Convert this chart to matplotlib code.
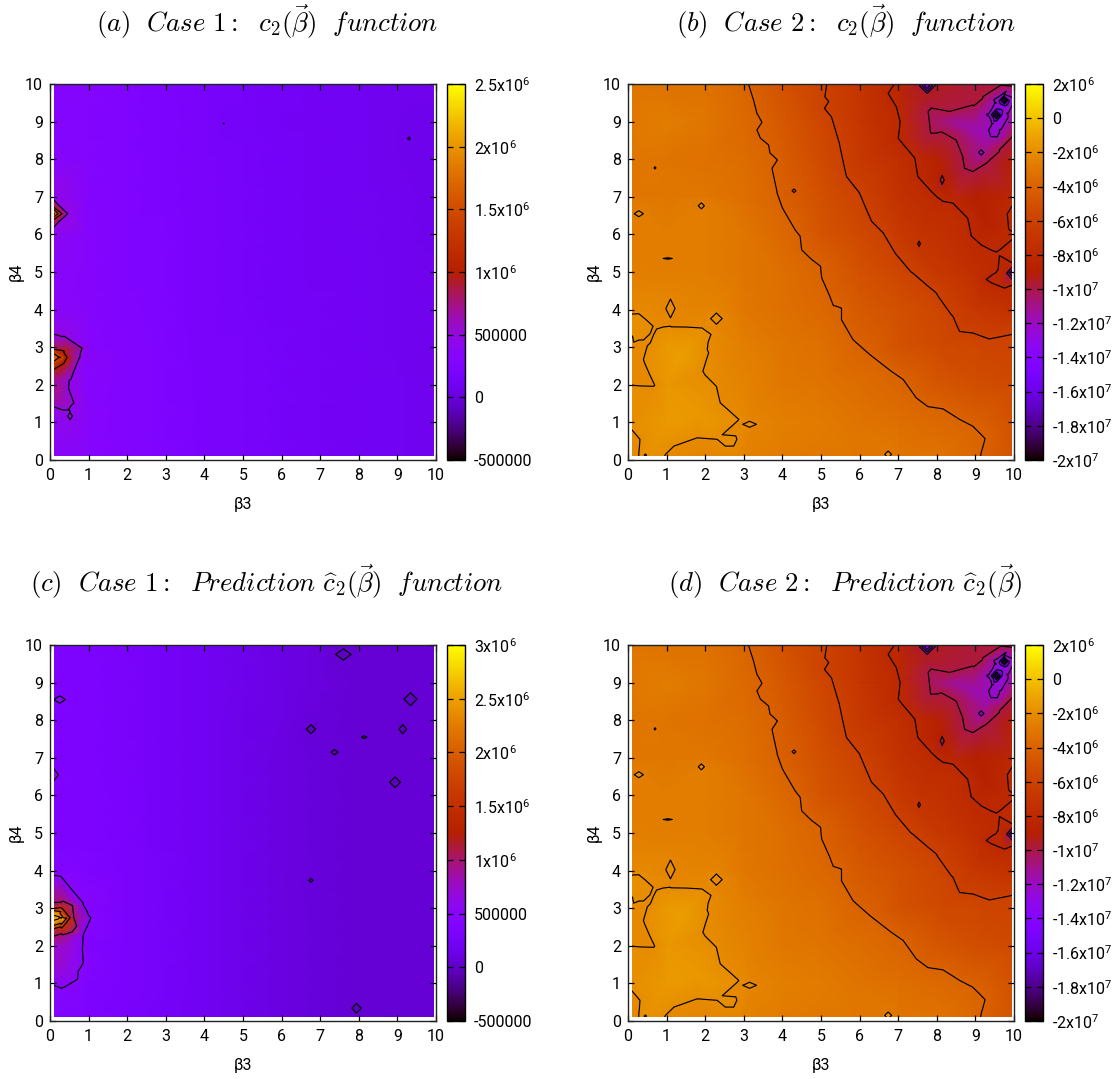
import numpy as np
import matplotlib
matplotlib.use("Agg")
import matplotlib.pyplot as plt
from matplotlib.colors import ListedColormap, Normalize
from matplotlib.patches import Rectangle
from matplotlib.cm import ScalarMappable
from matplotlib.tri import Triangulation

plt.rcParams['font.family'] = ['Roboto', 'DejaVu Sans']
plt.rcParams['mathtext.fontset'] = 'custom'
plt.rcParams['mathtext.rm'] = 'Roboto'
plt.rcParams['mathtext.it'] = 'Roboto:italic'
plt.rcParams['mathtext.bf'] = 'Roboto:bold'

# ---------- data, all values in units of 1e6 ----------
GRID_AXIS = [0, 1, 2, 3, 4, 5, 6, 7, 8, 9, 10]
N = float('nan')  # separates contour chains in the lists below

# rows run from beta4 = 10 down to beta4 = 0
CASE2_GRID = [
    [-3.1, -3.2, -3.2, -3.9, -4.9, -5.85, -7.0, -8.2, -9.5, -9.8, -9.8],
    [-2.9, -2.7, -3.0, -3.6, -4.6, -5.7, -6.9, -7.9, -10.6, -11.2, -11.0],
    [-3.0, -3.1, -3.2, -3.5, -4.3, -5.4, -6.6, -7.5, -8.7, -10.7, -9.0],
    [-3.0, -3.0, -3.0, -3.4, -4.2, -5.1, -5.95, -7.2, -8.0, -9.0, -8.3],
    [-2.7, -2.7, -2.7, -3.0, -3.7, -4.8, -5.5, -6.6, -7.3, -8.3, -8.0],
    [-2.6, -2.7, -2.7, -3.0, -3.4, -4.0, -5.0, -5.7, -6.7, -7.6, -9.0],
    [-2.3, -1.95, -2.4, -2.9, -3.3, -3.7, -4.5, -5.1, -5.7, -6.8, -7.3],
    [-2.1, -1.5, -1.95, -2.6, -3.0, -3.3, -3.95, -4.9, -5.4, -5.6, -5.9],
    [-2.0, -1.6, -1.8, -2.4, -2.9, -3.1, -3.5, -3.9, -4.7, -5.2, -5.5],
    [-1.95, -1.5, -1.6, -2.05, -2.6, -2.8, -3.1, -3.4, -3.6, -4.1, -5.0],
    [-2.2, -2.05, -2.3, -2.5, -2.8, -2.9, -3.0, -3.0, -3.1, -3.9, -4.9],
]
CASE2_LEVELS = [-18, -16, -14, -12, -10, -8, -6, -4, -2]

CASE2_M2_X = [0, .67, .43, .58, 1.1, 1.92, 2.15, 2.09, 1.94, 2.29, 2.39, 2.87, 2.82, 2.74, 2.52, 2.31, 1.79, 1.19, .97, .9, N,
              0, .31, .28, .28, N, 0, .28, .65, .28, 0]
CASE2_M2_Y = [2.0, 1.96, 2.58, 3.12, 3.56, 3.51, 3.34, 2.85, 2.36, 1.96, 1.52, 1.08, .55, .37, .37, .55, .59, .37, .15, 0, N,
              .92, .55, .19, 0, N, 3.87, 3.89, 3.56, 3.19, 3.38]
CASE2_M2_SIGN = [-1, 1, -1]
CASE2_M4_X = [3.12, 3.25, 3.34, 3.47, 3.34, 3.43, 3.64, 3.68, 3.87, 3.73, 3.86, 4.03, 4.33, 4.46, 4.5, 4.76, 4.99, 5.02,
              5.23, 5.32, 5.53, 5.53, 5.83, 6.27, 6.82, 7.13, 7.47, 7.77, 8.16, 8.59, 8.93, 9.25, 9.15, 9.12]
CASE2_M4_Y = [10, 9.58, 9.22, 8.98, 8.78, 8.56, 8.38, 8.16, 7.98, 7.76, 7.14, 6.65, 6.12, 5.95, 5.59, 5.33, 5.15, 4.84,
              4.35, 4.11, 4.04, 3.73, 3.2, 2.8, 2.36, 2.14, 1.65, 1.42, 1.36, 1.08, .9, .57, .2, 0]
CASE2_M4_SIGN = [-1]
CASE2_M6_X = [5.15, 5.1, 5.2, 5.09, 5.27, 5.45, 5.66, 6.0, 6.31, 6.61, 6.87, 7.38, 7.73, 7.99, 8.42, 8.59, 8.93, 9.36, 10]
CASE2_M6_Y = [10, 9.66, 9.53, 9.35, 9.13, 8.51, 7.54, 7.1, 6.35, 6.04, 5.59, 4.97, 4.66, 4.44, 3.82, 3.42, 3.38, 3.22, 3.35]
CASE2_M6_SIGN = [-1]
CASE2_M8_X = [6.91, 6.74, 6.95, 7.04, 7.0, 7.25, 7.43, 7.51, 7.86, 8.16, 8.42, 8.8, 8.89, 9.23, 9.54, 10, N,
              10, 9.84, 9.88, 10, N, 10, 9.54, 9.28, 9.54, 9.71, 10]
CASE2_M8_Y = [10, 9.75, 9.4, 9.04, 8.56, 8.25, 8.03, 7.54, 7.14, 6.88, 6.83, 6.43, 5.99, 5.68, 5.53, 5.99, N,
              6.83, 6.57, 6.12, 5.99, N, 5.19, 4.99, 4.8, 4.66, 4.59, 4.71]
CASE2_M8_SIGN = [-1, 1, -1]
CASE2_M10_X = [7.81, 8.33, 8.93, 9.19, 9.66, 10, 10, 9.62, 9.28, 8.93, 8.72, 8.67, 8.5, 8.12, 7.86, 7.81]
CASE2_M10_Y = [9.31, 9.27, 9.44, 9.66, 9.97, 9.93, 8.65, 8.25, 7.89, 7.67, 7.76, 8.07, 8.51, 8.73, 8.69, 9.31]
CASE2_M10_SIGN = [1]
CASE2_M12_X = [9.34, 9.54, 9.75, 9.97, 9.81, 9.62, 9.58, 9.34, 9.47, 9.34]
CASE2_M12_Y = [9.18, 9.49, 9.73, 9.53, 9.22, 8.78, 8.63, 8.78, 8.95, 9.18]
CASE2_M12_SIGN = [1]
CASE2_EXTRA_X = [.6, 1.4, 1.2, 1.9, .2, 0, 8.4, 8.9, 9.3, 9.1, 9.0, 10, 10, 9.6, 9.3, 8.3, 9.85, 9.52, 9.5, .15, .2,
                 .9, 1.15, .9, 1.15]
CASE2_EXTRA_Y = [.25, 2.8, 1.0, 1.2, 3.55, 3.6, 9.0, 8.8, 8.5, 8.0, 9.55, 5.6, 6.4, 4.85, 6.3, 6.3, 9.4, 8.85, 8.7, 2.5, 2.9,
                 5.45, 5.45, 5.27, 5.27]
CASE2_EXTRA_V = [-1.75, -1.25, -1.4, -1.55, -1.8, -1.8, -11.2, -11.6, -11.5, -11.0, -9.6, -7.7, -7.6, -8.2, -8.7, -7.5, -12.4, -12.6, -12.5, -2.2, -2.2,
                 -2.7, -2.7, -2.7, -2.7]
# small closed contours: x, y, half width, half height, ring levels, centre value, surroundings
CASE2_SPOTS = [
    (1.1, 4.03, .12, .25, [-2], -1.9, -2.3),
    (2.29, 3.76, .15, .15, [-2], -1.9, -2.3),
    (3.15, .95, .18, .08, [-2], -1.9, -2.3),
    (6.74, .15, .09, .09, [-2], -1.9, -2.9),
    (1.9, 6.76, .08, .08, [-2], -1.9, -2.7),
    (.28, 6.55, .12, .08, [-2], -1.9, -2.7),
    (.7, 7.77, .025, .03, [-2], -1.9, -2.9),
    (1.03, 5.36, .12, .02, [-2], -1.9, -2.7),
    (.45, .13, .03, .03, [-2], -2.1, -1.8),
    (4.3, 7.16, .05, .05, [-4], -3.9, -4.4),
    (7.54, 5.75, .035, .07, [-8], -8.1, -7.0),
    (8.14, 7.45, .05, .12, [-10], -10.3, -8.9),
    (9.15, 8.18, .07, .07, [-12], -12.3, -11.0),
    (7.75, 9.95, .2, .2, [-10, -12, -14], -15.0, -9.5),
    (9.55, 9.18, .14, .16, [-14, -16, -18], -19.0, -12.6),
    (9.75, 9.56, .13, .14, [-14, -16, -18], -19.0, -12.6),
    (9.95, 4.97, .14, .16, [-10, -12], -13.0, -8.4),
]

CASE1A_GRID = [
    [.33, .30, .26, .22, .19, .16, .14, .12, .10, .09, .08],
    [.33, .29, .25, .22, .18, .16, .13, .12, .10, .08, .07],
    [.34, .29, .26, .22, .18, .16, .14, .12, .10, .08, .07],
    [.42, .30, .26, .22, .18, .16, .14, .12, .10, .09, .07],
    [.40, .31, .26, .23, .19, .16, .14, .12, .10, .09, .07],
    [.36, .31, .26, .23, .19, .16, .14, .12, .11, .09, .08],
    [.38, .31, .27, .23, .19, .16, .14, .13, .11, .09, .08],
    [.80, .32, .28, .24, .19, .17, .15, .13, .11, .09, .08],
    [.70, .33, .28, .24, .20, .17, .15, .13, .11, .10, .08],
    [.40, .33, .28, .24, .20, .17, .15, .13, .12, .10, .08],
    [.36, .32, .28, .24, .20, .17, .15, .13, .12, .10, .09],
]
CASE1A_LEVELS = [0, .5, 1, 1.5, 2]
CASE1A_P5_X = [0, .46, 0, N, 0, .33, .78, .5, .48, .62, .5, .33, 0]
CASE1A_P5_Y = [6.97, 6.55, 6.15, N, 3.37, 3.28, 2.73, 2.13, 1.91, 1.51, 1.33, 1.33, 1.45]
CASE1A_P10_X = [0, .26, 0, N, 0, .36, .44, .36, 0]
CASE1A_P10_Y = [6.74, 6.55, 6.38, N, 2.91, 2.86, 2.73, 2.57, 2.4]
CASE1A_P15_X = [0, .21, 0, N, 0, .27, 0]
CASE1A_P15_Y = [6.7, 6.55, 6.42, N, 2.86, 2.73, 2.6]
CASE1A_P20_X = [0, .16, 0]
CASE1A_P20_Y = [6.66, 6.55, 6.46]
CASE1A_EXTRA_X = [0, 0, .3, .2, .6, .9, .9, .7, .7]
CASE1A_EXTRA_Y = [6.55, 2.73, 1.9, 1.6, 6.55, 6.5, 2.7, 1.2, 3.5]
CASE1A_EXTRA_V = [2.3, 1.85, .7, .68, .4, .32, .36, .4, .4]
CASE1A_SPOTS = [
    (.52, 1.17, .06, .1, [.5], .55, .42),
    (9.3, 8.55, .035, .035, [0], -.02, .07),
    (4.5, 8.95, .012, .012, [0], -.01, .15),
]

CASE1C_GRID = [
    [.38, .34, .30, .25, .20, .16, .12, .09, .06, .05, .05],
    [.37, .34, .30, .25, .20, .16, .12, .09, .06, .05, .05],
    [.37, .34, .30, .25, .20, .15, .12, .08, .06, .05, .05],
    [.37, .34, .30, .25, .20, .15, .11, .08, .06, .05, .05],
    [.37, .34, .31, .25, .20, .15, .11, .08, .06, .05, .05],
    [.37, .34, .31, .25, .20, .15, .11, .08, .06, .05, .05],
    [.38, .35, .31, .26, .20, .15, .11, .08, .06, .05, .05],
    [1.4, .40, .32, .26, .20, .15, .11, .08, .06, .05, .05],
    [.70, .38, .32, .26, .20, .15, .11, .08, .06, .05, .05],
    [.50, .37, .32, .26, .20, .15, .11, .08, .06, .05, .05],
    [.38, .34, .31, .25, .20, .15, .11, .08, .06, .05, .05],
]
CASE1C_LEVELS = [0, .5, 1, 1.5, 2, 2.5, 2.75]
CASE1C_P5_X = [0, .28, .6, .86, 1.06, .86, .84, .86, .73, .71, .47, .3, 0]
CASE1C_P5_Y = [3.88, 3.85, 3.45, 3.14, 2.74, 2.29, 1.9, 1.54, 1.32, 1.11, .96, .87, .99]
CASE1C_P10_X = [0, .3, .62, .3, 0]
CASE1C_P10_Y = [3.14, 3.16, 2.74, 2.32, 2.23]
CASE1C_P15_X = [0, .33, .52, .3, 0]
CASE1C_P15_Y = [2.96, 2.98, 2.74, 2.47, 2.43]
CASE1C_P20_X = [0, .26, .39, .26, 0]
CASE1C_P20_Y = [2.9, 2.87, 2.74, 2.6, 2.56]
CASE1C_P25_X = [0, .2, .3, .17, 0]
CASE1C_P25_Y = [2.83, 2.78, 2.74, 2.7, 2.65]
CASE1C_EXTRA_X = [0, .2, .4, .25, .5, 1.2, .8, .6, 1.1, .8]
CASE1C_EXTRA_Y = [2.74, 2.74, 2.0, 1.5, 1.4, 2.7, 3.6, 4.2, 1.5, .8]
CASE1C_EXTRA_V = [3.0, 2.7, .72, .72, .6, .42, .42, .38, .4, .4]
CASE1C_SPOTS = [
    (.25, 8.55, .15, .1, [.5], .52, .37),
    (.07, 6.55, .15, .2, [.5], .55, .37),
    (7.6, 9.75, .2, .15, [0], -.015, .06),
    (9.34, 8.56, .17, .17, [0], -.015, .05),
    (6.76, 7.76, .12, .12, [0], -.015, .08),
    (9.14, 7.76, .1, .12, [0], -.015, .05),
    (8.14, 7.55, .07, .04, [0], -.015, .06),
    (7.37, 7.15, .09, .07, [0], -.015, .07),
    (8.94, 6.35, .14, .14, [0], -.015, .05),
    (6.76, 3.74, .05, .05, [0], -.015, .08),
    (7.94, .34, .12, .13, [0], -.015, .06),
]

TICK_VALUES = [0, 1, 2, 3, 4, 5, 6, 7, 8, 9, 10]
CBAR_A_TICKS = [-.5, 0, .5, 1, 1.5, 2, 2.5]
CBAR_A_LABELS = ['-500000', '0', '500000', '1x10$^{6}$', '1.5x10$^{6}$', '2x10$^{6}$', '2.5x10$^{6}$']
CBAR_C_TICKS = [-.5, 0, .5, 1, 1.5, 2, 2.5, 3]
CBAR_C_LABELS = ['-500000', '0', '500000', '1x10$^{6}$', '1.5x10$^{6}$', '2x10$^{6}$', '2.5x10$^{6}$', '3x10$^{6}$']
CBAR_B_TICKS = [-20, -18, -16, -14, -12, -10, -8, -6, -4, -2, 0, 2]
CBAR_B_LABELS = ['-2x10$^{7}$', '-1.8x10$^{7}$', '-1.6x10$^{7}$', '-1.4x10$^{7}$', '-1.2x10$^{7}$', '-1x10$^{7}$',
                 '-8x10$^{6}$', '-6x10$^{6}$', '-4x10$^{6}$', '-2x10$^{6}$', '0', '2x10$^{6}$']

TITLE_A = r'$\mathit{(a)\ \ Case\ 1{:}\ \ }c_2(\vec{\beta})\mathit{\ \ function}$'
TITLE_B = r'$\mathit{(b)\ \ Case\ 2{:}\ \ }c_2(\vec{\beta})\mathit{\ \ function}$'
TITLE_C = r'$\mathit{(c)\ \ Case\ 1{:}\ \ Prediction\ }\widehat{c}_2(\vec{\beta})\mathit{\ \ function}$'
TITLE_D = r'$\mathit{(d)\ \ Case\ 2{:}\ \ Prediction\ }\widehat{c}_2(\vec{\beta})$'

W, H = 1115, 1079
# gnuplot's default pm3d palette (rgbformulae 7,5,15)
t = np.linspace(0, 1, 256)
CMAP = ListedColormap(np.c_[np.sqrt(t), t**3, np.clip(np.sin(2*np.pi*t), 0, 1)])
BAND = 0.05  # how far either side of a traced contour the steadying points sit


def chains(xs, ys):
    xs, ys = np.array(xs, float), np.array(ys, float)
    breaks = np.where(np.isnan(xs))[0]
    return list(zip(np.split(xs, breaks), np.split(ys, breaks)))


def collect(grid, lines, extra, spots, step):
    pts = {}
    for r, row in enumerate(grid):
        for c, v in enumerate(row):
            pts[(float(GRID_AXIS[c]), float(GRID_AXIS[10 - r]))] = v
    for xs, ys, lev, signs in lines:
        for (cx, cy), sign in zip(chains(xs, ys), signs):
            keep = ~np.isnan(cx)
            cx, cy = cx[keep], cy[keep]
            for i in range(len(cx)):
                a, b = max(i - 1, 0), min(i + 1, len(cx) - 1)
                tx, ty = cx[b] - cx[a], cy[b] - cy[a]
                norm = np.hypot(tx, ty) or 1.0
                nx, ny = -ty/norm, tx/norm
                pts[(float(cx[i] + BAND*nx), float(cy[i] + BAND*ny))] = lev + sign*step
                pts[(float(cx[i] - BAND*nx), float(cy[i] - BAND*ny))] = lev - sign*step
            for x, y in zip(cx, cy):
                pts[(float(x), float(y))] = lev
    for x, y, v in zip(*extra):
        pts[(float(x), float(y))] = v
    for x, y, dx, dy, rings, centre, bg in spots:
        for sx, sy in ((1, 0), (-1, 0), (0, 1), (0, -1)):
            pts[(x + 1.5*sx*dx, y + 1.5*sy*dy)] = bg
            for k, lev in enumerate(rings):
                f = 1 - k/len(rings)
                pts[(x + f*sx*dx, y + f*sy*dy)] = lev
        pts[(x, y)] = centre
    arr = np.array([(k[0], k[1], v) for k, v in pts.items()])
    return arr[:, 0], arr[:, 1], arr[:, 2]


CASE2 = collect(CASE2_GRID,
                [(CASE2_M2_X, CASE2_M2_Y, -2, CASE2_M2_SIGN), (CASE2_M4_X, CASE2_M4_Y, -4, CASE2_M4_SIGN),
                 (CASE2_M6_X, CASE2_M6_Y, -6, CASE2_M6_SIGN), (CASE2_M8_X, CASE2_M8_Y, -8, CASE2_M8_SIGN),
                 (CASE2_M10_X, CASE2_M10_Y, -10, CASE2_M10_SIGN), (CASE2_M12_X, CASE2_M12_Y, -12, CASE2_M12_SIGN)],
                (CASE2_EXTRA_X, CASE2_EXTRA_Y, CASE2_EXTRA_V), CASE2_SPOTS, .08)
CASE1A = collect(CASE1A_GRID,
                 [(CASE1A_P5_X, CASE1A_P5_Y, .5, [-1, -1]), (CASE1A_P10_X, CASE1A_P10_Y, 1, [-1, -1]),
                  (CASE1A_P15_X, CASE1A_P15_Y, 1.5, [-1, -1]), (CASE1A_P20_X, CASE1A_P20_Y, 2, [-1])],
                 (CASE1A_EXTRA_X, CASE1A_EXTRA_Y, CASE1A_EXTRA_V), CASE1A_SPOTS, .03)
CASE1C = collect(CASE1C_GRID,
                 [(CASE1C_P5_X, CASE1C_P5_Y, .5, [-1]), (CASE1C_P10_X, CASE1C_P10_Y, 1, [-1]),
                  (CASE1C_P15_X, CASE1C_P15_Y, 1.5, [-1]), (CASE1C_P20_X, CASE1C_P20_Y, 2, [-1]),
                  (CASE1C_P25_X, CASE1C_P25_Y, 2.5, [-1])],
                 (CASE1C_EXTRA_X, CASE1C_EXTRA_Y, CASE1C_EXTRA_V), CASE1C_SPOTS, .03)

fig = plt.figure(figsize=(W/100, H/100), dpi=100)


def box(l, r, t, b):
    return [l/W, 1 - b/H, (r - l)/W, (b - t)/H]


def panel(x0, y0, data, levels, vmin, vmax, cticks, clabels, title, tx, ty):
    ax = fig.add_axes(box(x0, x0 + 386, y0, y0 + 376))
    norm = Normalize(vmin, vmax)
    X, Y, Z = data
    tri = Triangulation(X, Y)
    clip = Rectangle((0.1, 0.1), 9.86, 9.9, transform=ax.transData)
    mesh = ax.tripcolor(tri, Z, shading='gouraud', cmap=CMAP, norm=norm, rasterized=True)
    mesh.set_clip_path(clip)
    cs = ax.tricontour(tri, Z, levels=levels, colors='black', linewidths=0.85, linestyles='solid')
    cs.set_clip_path(clip)
    ax.set_xlim(0, 10)
    ax.set_ylim(0, 10)
    ax.set_xticks(TICK_VALUES)
    ax.set_yticks(TICK_VALUES)
    ax.tick_params(axis='x', direction='in', length=4.5, width=0.9, top=True, labelsize=11.5, pad=6)
    ax.tick_params(axis='y', direction='in', length=4.5, width=0.9, right=True, labelsize=11.5, pad=5)
    ax.set_xlabel('β3', fontsize=11.5, labelpad=10)
    ax.set_ylabel('β4', fontsize=11.5, labelpad=1)
    for s in ax.spines.values():
        s.set_linewidth(1.0)
        s.set_color('#222222')
    cax = fig.add_axes(box(x0 + 397, x0 + 415, y0, y0 + 376))
    cb = fig.colorbar(ScalarMappable(norm=norm, cmap=CMAP), cax=cax)
    cb.set_ticks(cticks)
    cb.set_ticklabels(clabels)
    cax.tick_params(axis='y', direction='in', length=4, width=0.9, left=True, right=True, labelsize=11.5, pad=6.5)
    cb.outline.set_linewidth(1.0)
    fig.text(tx/W, 1 - ty/H, title, fontsize=19.3, ha='center', va='baseline', math_fontfamily='cm')


panel(50, 84, CASE1A, CASE1A_LEVELS, -.5, 2.5, CBAR_A_TICKS, CBAR_A_LABELS, TITLE_A, 267, 32)
panel(628, 84, CASE2, CASE2_LEVELS, -20, 2, CBAR_B_TICKS, CBAR_B_LABELS, TITLE_B, 846, 32)
panel(50, 645, CASE1C, CASE1C_LEVELS, -.5, 3, CBAR_C_TICKS, CBAR_C_LABELS, TITLE_C, 267, 592)
panel(628, 645, CASE2, CASE2_LEVELS, -20, 2, CBAR_B_TICKS, CBAR_B_LABELS, TITLE_D, 845, 592)

fig.savefig('out.png', dpi=100)
